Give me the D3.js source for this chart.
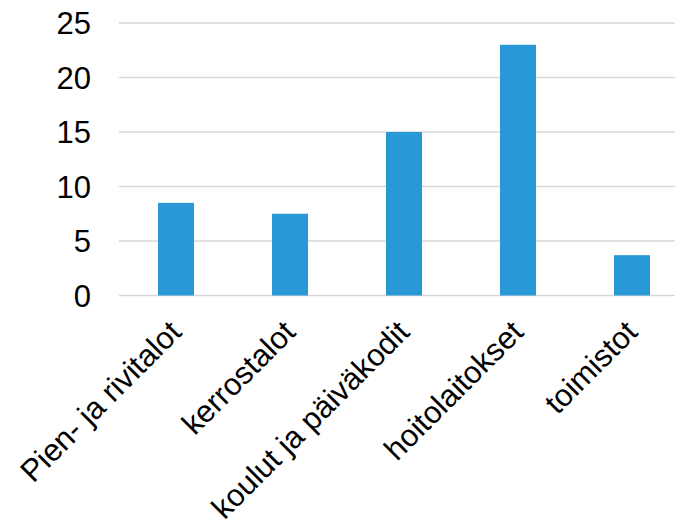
<!DOCTYPE html>
<html>
<head>
<meta charset="utf-8">
<script src="https://cdn.jsdelivr.net/npm/d3@7"></script>
<style>
  body { margin: 0; background: #fff; }
  text { font-family: "Liberation Sans", Arial, sans-serif; fill: #000; }
</style>
</head>
<body>
<div id="chart"></div>
<script>
const categories = ['Pien- ja rivitalot', 'kerrostalot', 'koulut ja päiväkodit', 'hoitolaitokset', 'toimistot'];
const values = [8.5, 7.5, 15, 23, 3.7];
const yTicks = [0, 5, 10, 15, 20, 25];

let width = 675,
  height = 526;

const svg = d3.select('#chart').append('svg')
  .attr('width', width)
  .attr('height', height);

const x = d3.scaleBand()
  .domain(categories)
  .range([119, 689])
  .paddingInner(0.684)
  .paddingOuter(0.342);

const y = d3.scaleLinear()
  .domain([0, 25])
  .range([295.5, 23]);

// gridlines
svg.append('g')
  .selectAll('line')
  .data(yTicks)
  .enter()
  .append('line')
  .attr('x1', 119)
  .attr('x2', width)
  .attr('y1', d => y(d))
  .attr('y2', d => y(d))
  .attr('stroke', '#d9d9d9')
  .attr('stroke-width', 1.5);

// y axis labels
const yAxis = d3.axisLeft(y).tickValues(yTicks).tickSize(0).tickPadding(0);
svg.append('g')
  .attr('transform', 'translate(91,0)')
  .call(yAxis)
  .call(g => g.select('.domain').remove())
  .selectAll('text')
  .style('font-size', '31px')
  .attr('dy', '0.35em');

// bars
svg.append('g')
  .selectAll('rect')
  .data(values)
  .enter()
  .append('rect')
  .attr('x', (d, i) => x(categories[i]))
  .attr('width', x.bandwidth())
  .attr('y', d => y(d))
  .attr('height', d => y(0) - y(d))
  .attr('fill', '#2898d7');

// category labels, rotated
svg.append('g')
  .selectAll('text')
  .data(categories)
  .enter()
  .append('text')
  .attr('text-anchor', 'end')
  .style('font-size', '31px')
  .attr('transform', d => `translate(${x(d) + x.bandwidth() / 2 + 7},334) rotate(-45)`)
  .text(d => d);
</script>
</body>
</html>
